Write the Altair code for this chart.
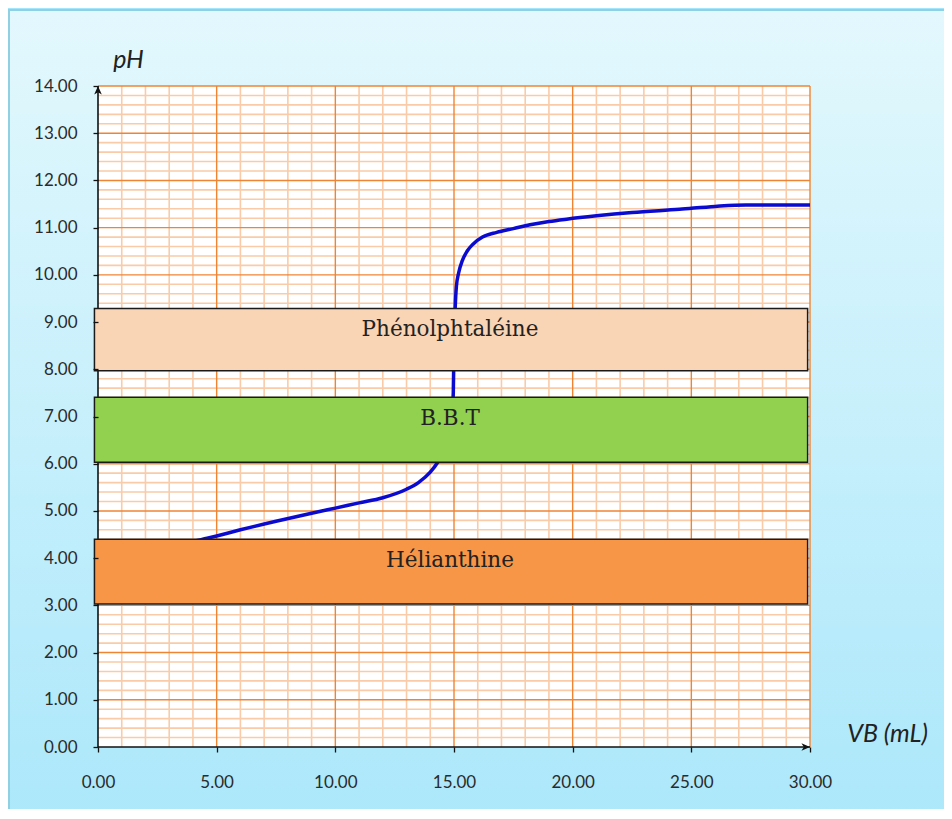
import altair as alt
import numpy as np
import pandas as pd

# ---- data ----
vb = [0, 1, 2, 3, 4, 4.6, 5, 6, 7.5, 9, 10, 11, 12, 13, 13.5, 14, 14.3, 14.6, 14.85,
      14.97, 15.0, 15.05, 15.1, 15.2, 15.35, 15.55, 15.8, 16.2, 16.8, 17.5, 18.2,
      19.0, 19.75, 21, 22.5, 24.5, 26, 27.3, 28.5, 30]
ph = [3.3, 3.75, 4.0, 4.2, 4.35, 4.42, 4.47, 4.6, 4.78, 4.95, 5.06, 5.17, 5.28,
      5.46, 5.6, 5.82, 6.02, 6.3, 6.7, 7.5, 8.5, 9.3, 9.75, 10.05, 10.3, 10.5,
      10.65, 10.8, 10.9, 10.98, 11.06, 11.13, 11.18, 11.25, 11.32, 11.39, 11.45,
      11.48, 11.48, 11.48]

indicators = ["Phénolphtaléine", "B.B.T", "Hélianthine"]
ind_low = [7.97, 6.03, 3.03]
ind_high = [9.29, 7.41, 4.4]
ind_colors = ["#F9D4B5", "#92D050", "#F79646"]
box_x0 = [-0.15, -0.15, -0.15]
box_x1 = [29.9, 29.9, 29.9]

x_ticks = [0, 5, 10, 15, 20, 25, 30]
y_ticks = list(range(0, 15))

W, H = 712, 661
PAD = {"left": 90, "top": 78, "right": 134, "bottom": 62}

xs = alt.Scale(domain=[0, 30], nice=False, zero=False)
ys = alt.Scale(domain=[0, 14], nice=False, zero=False)

x_axis = alt.Axis(values=x_ticks, format=".2f", grid=False, domain=False,
                  tickColor="#111", tickSize=5, tickWidth=1.3,
                  labelFont="Lato", labelFontSize=17, labelColor="#2b2b2b",
                  labelPadding=22, labelFlush=False, zindex=1,
                  titleFont="Lato", titleFontSize=25, titleFontStyle="italic",
                  titleFontWeight="normal", titleColor="#222",
                  titleX=789, titleY=-14, titleAlign="center",
                  titleBaseline="middle")
y_axis = alt.Axis(values=y_ticks, format=".2f", grid=False, domain=False,
                  tickColor="#111", tickSize=5, tickWidth=1.3,
                  labelFont="Lato", labelFontSize=17, labelColor="#2b2b2b",
                  labelPadding=16, labelFlush=False, zindex=1,
                  titleFont="Lato", titleFontSize=25, titleFontStyle="italic",
                  titleFontWeight="normal", titleColor="#222", titleAngle=0,
                  titleX=30, titleY=-27, titleAlign="center",
                  titleBaseline="middle")


def X(f):
    return alt.X(f, scale=xs, axis=x_axis, title="VB (mL)")


def Y(f):
    return alt.Y(f, scale=ys, axis=y_axis, title="pH")


one = pd.DataFrame({"a": [0]})

# background gradient
bg = alt.Chart(one).mark_rect(
    color=alt.Gradient(gradient="linear",
                       stops=[alt.GradientStop(color="#E3F8FD", offset=0),
                              alt.GradientStop(color="#A3E5FA", offset=1)],
                       x1=0, x2=0, y1=0, y2=1),
    stroke="#8FD0E2", strokeWidth=2
).encode(x=alt.value(-89), x2=alt.value(W + 200), y=alt.value(-76), y2=alt.value(H + 200))

plot_bg = alt.Chart(one).mark_rect(color="white").encode(
    x=alt.value(0), x2=alt.value(W), y=alt.value(0), y2=alt.value(H))

minor_x = pd.DataFrame({"x": [v for v in range(0, 31) if v % 5 != 0]})
minor_y = pd.DataFrame({"y": [round(v, 1) for v in np.arange(0, 14.01, 0.2)
                              if abs(v - round(v)) > 1e-6]})
major_x = pd.DataFrame({"x": [5, 10, 15, 20, 25, 30]})
major_y = pd.DataFrame({"y": list(range(1, 15))})

minor_c = "#F9CBA8"
major_c = "#EF8533"

g1 = alt.Chart(minor_y).mark_rule(color=minor_c, strokeWidth=1.6).encode(y=Y("y:Q"))
g2 = alt.Chart(minor_x).mark_rule(color=minor_c, strokeWidth=1.6).encode(x=X("x:Q"))
g3 = alt.Chart(major_y).mark_rule(color=major_c, strokeWidth=1.4).encode(y=Y("y:Q"))
g4 = alt.Chart(major_x).mark_rule(color=major_c, strokeWidth=1.4).encode(x=X("x:Q"))

# axis lines & arrows
ax_df = pd.DataFrame({"x": [0, 0], "y": [0, 0], "x2": [0, 30], "y2": [14, 0]})
ax_lines = alt.Chart(ax_df).mark_rule(color="#111", strokeWidth=1.6).encode(
    x=X("x:Q"), x2="x2:Q", y=Y("y:Q"), y2="y2:Q")
arr_up = alt.Chart(pd.DataFrame({"x": [0], "y": [14]})).mark_point(
    shape="M0,0L-0.8,1.8L0,1.3L0.8,1.8Z", filled=True, color="#111", size=90, opacity=1
).encode(x=X("x:Q"), y=Y("y:Q"))
arr_right = alt.Chart(pd.DataFrame({"x": [30], "y": [0]})).mark_point(
    shape="M0,0L-1.8,-0.8L-1.3,0L-1.8,0.8Z", filled=True, color="#111", size=90, opacity=1
).encode(x=X("x:Q"), y=Y("y:Q"))

curve_df = pd.DataFrame({"vb": vb, "ph": ph})
curve = alt.Chart(curve_df).mark_line(color="#0B0BD0", strokeWidth=3.5,
                                      interpolate="monotone").encode(
    x=X("vb:Q"), y=Y("ph:Q"), order="vb:Q")

box_df = pd.DataFrame({"name": indicators, "lo": ind_low, "hi": ind_high,
                       "col": ind_colors, "x0": box_x0, "x1": box_x1})
boxes = alt.Chart(box_df).mark_rect(stroke="#1a1a1a", strokeWidth=1.5).encode(
    x=X("x0:Q"), x2="x1:Q", y=Y("lo:Q"), y2="hi:Q",
    fill=alt.Fill("col:N", scale=None))
box_text = alt.Chart(box_df).mark_text(font="DejaVu Serif", fontSize=21.5,
                                       color="#222", baseline="middle",
                                       align="center", dy=22).encode(
    x=alt.value(352), y=Y("hi:Q"), text="name:N")

chart = alt.layer(bg, plot_bg, g1, g2, g3, g4, ax_lines, arr_up, arr_right,
                  curve, boxes, box_text).properties(
    width=W, height=H, padding=PAD,
    autosize=alt.AutoSizeParams(type="none")
).configure_view(stroke=None, fill=None).configure(background="#A3E5FA")

chart.save("out.html", embed_options={"renderer": "svg", "actions": False})
